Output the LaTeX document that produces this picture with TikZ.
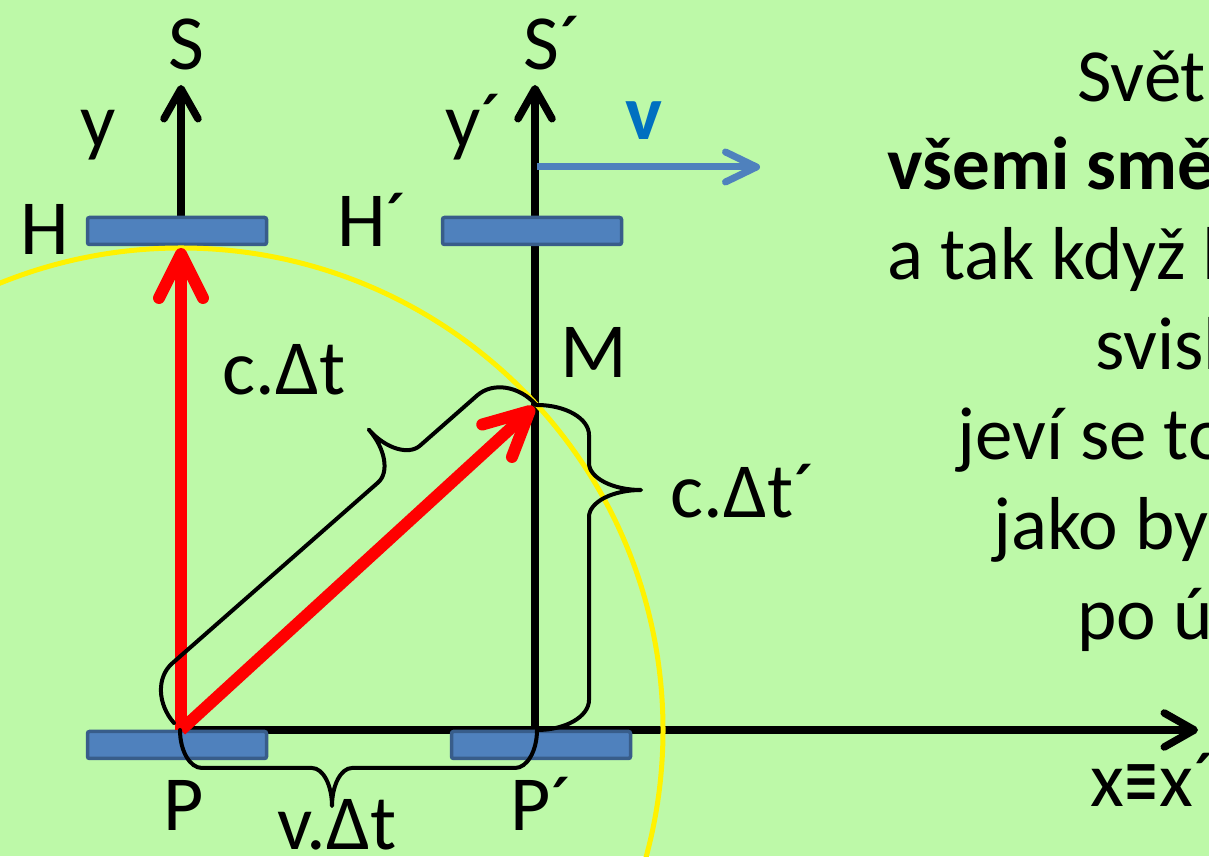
\documentclass[tikz,border=0pt]{standalone}
\usepackage{fontspec}
\setmainfont{Carlito}
\newfontfamily\symfont{DejaVu Sans}
\usetikzlibrary{arrows.meta}
\definecolor{bg}{RGB}{189,249,168}
\definecolor{barfill}{RGB}{79,129,189}
\definecolor{bardraw}{RGB}{56,93,138}
\definecolor{vblue}{RGB}{0,112,192}
\tikzset{
  bar/.style   = {draw=bardraw, fill=barfill, line width=3.5pt, rounded corners=2pt,
                  minimum width=179pt, minimum height=27pt, inner sep=0},
  axis/.style  = {line width=7.5pt, -{Straight Barb[length=30pt, width=34pt, round]}},
  ray/.style   = {red, line width=12pt, -{Straight Barb[length=44pt, width=44pt, round]}},
  vel/.style   = {barfill, line width=7pt, -{Straight Barb[length=31pt, width=30pt, round]}},
  brc/.style   = {line width=4pt, line join=round, line cap=round},
  lbl/.style   = {inner sep=0, anchor=base west, font=\fontsize{78}{94}\selectfont},
  txt/.style   = {inner sep=0, anchor=base west, font=\fontsize{75}{90}\selectfont},
  % length, half height, tip position, end curl, tip curl
  pics/curly/.style n args={5}{code={
    \draw[brc] (0,0) .. controls (0,0.55*#2) and ({0.45*#4},#2) .. (#4,#2)
      -- ({#3-#5},#2) .. controls ({#3-0.45*#5},#2) and (#3,1.45*#2) .. (#3,2*#2)
      .. controls (#3,1.45*#2) and ({#3+0.45*#5},#2) .. ({#3+#5},#2)
      -- ({#1-#4},#2) .. controls ({#1-0.45*#4},#2) and (#1,0.55*#2) .. (#1,0);
  }},
}

\begin{document}
\begin{tikzpicture}[x=1pt, y=1pt]
    \fill[bg] (0,0) rectangle (1209,856);
    \useasboundingbox (0,0) rectangle (1209,856);

    \coordinate (P)     at (181,126);
    \coordinate (Pp)    at (535,126);
    \coordinate (M)     at (534,449);
    \coordinate (Htip)  at (181,608);
    \coordinate (Stip)  at (181,771);
    \coordinate (Sptip) at (535,771);
    \coordinate (Xtip)  at (1198,126);
    \coordinate (vstart) at (537,689);
    \coordinate (vtip)  at (760,689);

    \draw[axis] (P)  -- (Stip);
    \draw[axis] (Pp) -- (Sptip);
    \draw[axis] (P)  -- (Xtip);
    \draw[vel] (vstart) -- (vtip);

    \node[bar] (Hbar)  at (177,625) {};
    \node[bar] (Hpbar) at (532,625) {};
    \node[bar] (Pbar)  at (177,111) {};
    \node[bar] (Ppbar) at (541,111) {};

    \draw[yellow, line width=5pt] (P) circle[radius=482];

    \draw[ray] (P) -- (Htip);
    \draw[ray] (P) -- (M);

    \pic[rotate=41.3] at (174,133) {curly={482}{46}{340}{38}{28}};
    \pic[rotate=-90]  at (537,451) {curly={325}{52}{85}{30}{27}};
    \pic[rotate=180]  at (537,126) {curly={357}{38}{205}{22}{20}};

    \node[lbl] (Slbl)   at (168,786) {S};
    \node[lbl] (Splbl)  at (523,786) {S´};
    \node[lbl] (ylbl)   at (80,708)  {y};
    \node[lbl] (yplbl)  at (445,708) {y´};
    \node[lbl] (Hlbl)   at (20,601)  {H};
    \node[lbl] (Hplbl)  at (337,609) {H´};
    \node[lbl] (Mlbl)   at (560,478) {M};
    \node[lbl] (ctlbl)  at (222,461) {c.Δt};
    \node[lbl] (ctplbl) at (670,338) {c.Δt´};
    \node[lbl] (Plbl)   at (163,26)  {P};
    \node[lbl] (Pplbl)  at (510,26)  {P´};
    \node[lbl] (vtlbl)  at (277,6)   {v.Δt};
    \node[lbl, text=vblue, font=\fontsize{78}{94}\selectfont\bfseries] (vlbl) at (625,716) {v};
    \node[lbl] (xlbl)   at (1090,49) {x\scalebox{0.55}[1]{\symfont ≡}x´};

    \node[txt] (line1) at (1077,754) {Světl};
    \node[txt, font=\fontsize{75}{90}\selectfont\bfseries] (line2) at (887,666) {všemi smě};
    \node[txt] (line3) at (887,576)  {a tak když l};
    \node[txt] (line4) at (1095,486) {svisl};
    \node[txt] (line5) at (957,396)  {jeví se to};
    \node[txt] (line6) at (993,306)  {jako by};
    \node[txt] (line7) at (1077,216) {po ú};
\end{tikzpicture}
\end{document}
